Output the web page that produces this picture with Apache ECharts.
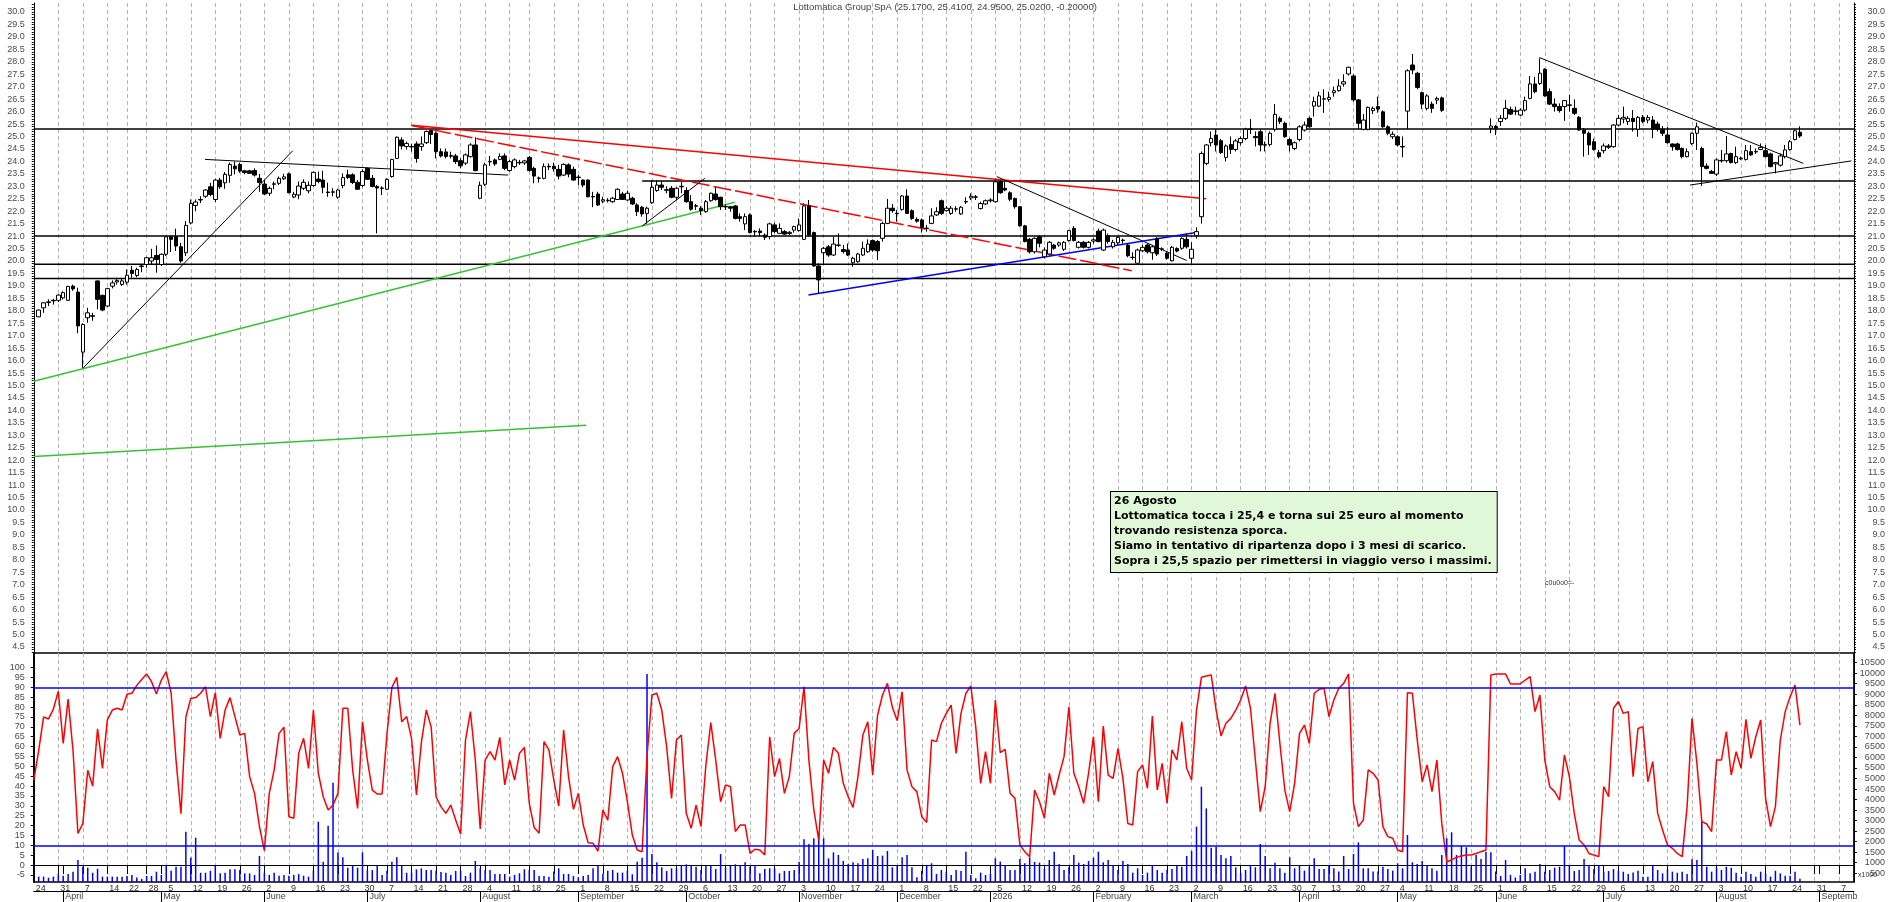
<!DOCTYPE html>
<html><head><meta charset="utf-8">
<script src="https://cdn.jsdelivr.net/npm/echarts@6/dist/echarts.min.js"></script>
<style>html,body{margin:0;padding:0;background:#fff;}#c{width:1890px;height:902px;}</style>
</head><body><div id="c"></div>
<script>
// ---- calendar (Borsa Italiana trading days) ----
const holidays = ['2025-04-18','2025-04-21','2025-05-01','2025-08-15','2025-12-24','2025-12-25','2025-12-26','2025-12-31','2026-01-01','2026-04-03','2026-04-06','2026-05-01'];
const skipWeekTicks = ['2025-12-29'];
const monthNames = ['January','February','March','April','May','June','July','August','September','October','November','December'];

// ---- OHLC (index 0 = 2025-03-24) ----
const openP = ['-',17.76,18.12,18.33,18.42,18.42,18.52,18.42,18.99,18.75,
16.34,17.72,17.80,19.20,18.62,18.19,18.99,19.16,19.06,19.15,
19.63,19.42,19.78,19.86,20.00,20.22,19.86,20.27,20.97,20.97,
20.57,20.33,21.53,22.23,22.45,22.60,22.98,22.47,23.25,23.14,
23.44,23.81,23.88,23.62,23.62,23.63,23.32,23.09,22.72,23.08,
23.12,23.30,23.50,22.57,22.65,22.92,22.82,23.03,23.29,23.25,
22.77,22.76,22.56,23.03,23.46,23.46,23.16,23.03,23.72,23.32,
22.99,22.93,22.88,23.39,24.12,24.86,24.60,24.60,24.70,24.60,
24.75,25.24,25.13,24.39,24.38,24.23,24.22,24.03,23.93,24.19,
24.66,22.52,23.08,23.98,24.06,24.08,24.22,23.63,23.79,23.94,
23.94,24.16,23.72,23.32,23.32,23.80,23.80,23.68,23.45,23.86,
23.68,23.37,23.25,23.25,22.59,22.69,22.40,22.42,22.38,22.47,
22.69,22.45,22.52,22.25,22.16,21.91,22.34,22.83,23.05,22.86,
22.92,22.56,22.98,22.83,22.38,22.22,22.12,21.98,22.42,22.69,
22.56,22.19,22.18,22.21,21.78,21.49,21.85,21.19,21.20,21.04,
20.98,21.45,21.11,21.18,21.10,21.24,21.22,20.87,22.21,21.14,
19.80,20.33,20.57,20.24,20.64,20.46,20.44,19.93,19.97,20.24,
20.37,20.82,20.78,20.91,21.51,22.12,21.92,22.07,22.61,22.02,
21.67,21.65,21.32,21.51,21.85,22.42,22.02,21.91,22.08,21.89,
22.37,22.53,22.56,22.11,22.29,22.42,22.38,23.18,22.92,22.74,
22.51,22.18,21.41,20.87,20.37,20.97,20.17,20.28,20.64,20.64,
20.47,20.82,21.31,20.55,20.75,20.55,20.80,21.20,20.44,21.02,
20.57,20.73,20.82,20.64,20.14,19.91,20.41,20.64,20.33,20.91,
20.47,20.31,20.01,20.50,20.51,20.87,20.11,21.02,21.78,23.92,
24.75,25.06,24.83,24.16,24.68,24.48,24.75,24.92,25.28,25.00,
25.19,24.65,24.68,25.29,25.73,25.53,24.88,24.52,24.88,25.26,
25.73,26.22,26.22,26.50,26.49,26.76,26.84,27.11,27.51,27.43,
26.47,25.29,25.29,26.04,26.20,25.99,25.39,24.99,24.99,24.60,
26.02,27.87,27.54,26.76,26.13,26.30,26.46,26.55,'-','-',
'-','-','-','-','-','-','-',25.33,25.40,25.60,
25.73,26.09,26.00,25.86,26.06,26.53,27.11,27.13,27.70,26.80,
26.30,26.20,26.20,26.25,26.13,25.77,25.26,25.13,24.79,24.35,
24.43,24.62,24.59,25.46,25.70,25.60,25.73,25.29,25.77,25.66,
25.66,25.50,25.29,25.06,24.70,24.70,24.52,24.19,24.72,25.13,
24.52,23.81,23.59,23.49,24.02,24.03,24.32,23.95,24.10,24.08,
24.39,24.38,24.48,24.43,24.30,23.90,23.85,24.19,24.48,24.88,25.17];

const closeP = ['-',18.03,18.32,18.36,18.40,18.63,18.73,18.98,18.88,17.39,
17.45,17.92,17.78,18.46,18.03,18.89,19.12,19.22,19.20,19.43,
19.50,19.66,19.80,20.13,20.13,20.06,20.27,20.97,20.87,20.60,
20.00,21.43,22.31,22.37,22.47,22.85,22.67,23.25,22.98,23.48,
23.88,23.70,23.61,23.55,23.52,23.45,23.15,22.69,22.92,23.10,
23.32,23.38,22.74,22.68,23.01,23.16,23.04,23.56,23.19,22.96,
22.75,22.78,22.85,23.35,23.35,23.15,22.88,23.59,23.28,22.99,
22.93,22.92,23.28,24.08,24.97,24.62,24.72,24.58,24.12,24.70,
25.20,25.08,24.39,24.22,24.20,24.21,23.99,23.82,24.26,24.66,
23.63,23.04,23.86,24.00,23.90,24.20,23.72,23.99,24.06,23.96,
24.02,23.63,23.41,23.33,23.79,23.78,23.70,23.41,23.88,23.49,
23.25,23.35,23.05,22.58,22.57,22.25,22.46,22.44,22.52,22.88,
22.47,22.72,22.29,21.98,21.89,22.12,22.96,23.05,22.96,22.84,
22.56,22.92,23.00,22.38,22.08,22.20,22.02,22.38,22.72,22.47,
22.18,22.17,22.12,21.71,21.71,21.78,21.14,21.17,21.14,20.95,
21.49,21.18,21.31,21.08,21.15,21.38,21.45,22.21,21.04,19.80,
19.24,20.51,20.24,20.68,20.63,20.38,20.24,20.11,20.28,20.51,
20.68,20.44,20.41,21.51,22.12,22.02,21.90,22.61,21.91,21.71,
21.60,21.35,21.30,21.81,21.98,21.91,22.12,22.12,22.10,22.16,
22.39,22.60,22.58,22.31,22.42,22.45,23.18,22.74,22.85,22.48,
22.18,21.41,20.78,20.37,20.91,20.71,20.44,20.75,20.51,20.73,
20.75,21.22,20.82,20.75,20.55,20.75,20.85,20.78,21.24,20.78,
20.75,20.95,20.84,20.21,20.15,20.44,20.55,20.37,20.57,20.28,
20.49,20.11,20.55,20.40,20.91,20.57,20.47,21.18,24.32,24.66,
24.92,24.66,24.35,24.62,24.48,24.82,24.92,25.29,25.30,24.95,
24.66,24.67,25.13,25.89,25.60,24.99,24.66,24.75,25.39,25.46,
25.39,26.40,26.63,26.52,26.57,26.84,27.03,27.20,27.78,26.47,
25.53,25.66,26.17,26.13,26.10,25.39,25.13,25.09,24.66,24.58,
27.64,27.67,26.97,26.30,26.63,26.13,26.53,26.05,'-','-',
'-','-','-','-','-','-','-',25.42,25.33,25.73,
26.13,25.90,26.03,26.06,26.44,27.11,26.80,27.54,26.63,26.30,
26.20,26.04,26.44,26.27,25.93,25.26,25.13,24.66,24.48,24.19,
24.62,24.57,25.46,25.73,25.77,25.73,25.60,25.77,25.60,25.76,
25.29,25.29,25.13,24.75,24.59,24.48,24.19,24.39,25.13,25.39,
23.79,23.72,23.52,24.06,24.04,24.30,23.95,24.19,24.13,24.43,
24.26,24.40,24.56,24.19,23.79,23.95,24.22,24.46,24.79,25.23,25.02];

const lowP = ['-',17.74,17.92,18.19,18.25,18.35,18.45,18.40,18.80,17.10,
15.71,17.52,17.60,18.06,17.98,18.15,18.90,19.05,19.00,19.05,
19.33,19.35,19.55,19.73,19.86,19.53,19.80,20.20,20.36,20.40,
19.93,20.20,21.47,22.00,22.33,22.53,22.60,22.37,22.90,22.90,
23.14,23.48,23.54,23.48,23.50,23.39,22.78,22.65,22.61,22.88,
23.05,23.25,22.72,22.52,22.48,22.85,22.72,22.99,23.12,22.72,
22.58,22.60,22.50,22.92,23.29,23.09,22.85,22.96,23.25,22.96,
21.11,22.65,22.85,23.35,24.10,24.48,24.48,24.39,23.95,24.43,
24.70,24.70,24.12,24.16,24.12,24.12,23.90,23.72,23.86,24.16,
23.60,22.48,23.01,23.82,23.82,24.05,23.65,23.59,23.72,23.86,
23.86,23.59,23.12,23.15,23.28,23.65,23.59,23.28,23.41,23.36,
23.23,23.05,22.96,22.56,22.16,22.21,22.32,22.35,22.34,22.45,
22.45,22.42,22.25,21.81,21.78,21.50,22.29,22.78,22.85,22.72,
22.52,22.45,22.72,22.34,22.02,22.05,21.85,21.94,22.38,22.42,
22.05,22.05,21.98,21.67,21.58,21.24,21.11,20.98,20.98,20.84,
20.87,21.11,21.08,21.04,21.05,21.14,21.18,20.84,20.98,19.77,
18.70,19.84,20.17,20.20,20.57,20.30,20.20,19.77,19.93,20.20,
20.33,20.37,20.04,20.78,21.48,21.94,21.58,22.02,21.89,21.65,
21.54,21.14,21.18,21.48,21.81,21.85,21.98,21.85,21.98,21.85,
22.29,22.45,22.45,22.07,22.25,22.35,22.35,22.70,22.80,22.40,
22.10,21.38,20.75,20.30,20.30,20.55,20.10,20.22,20.45,20.57,
20.40,20.78,20.78,20.50,20.50,20.50,20.70,20.75,20.40,20.70,
20.50,20.65,20.70,20.15,20.05,19.88,20.35,20.30,20.05,20.20,
20.40,20.05,19.98,20.35,20.45,20.50,19.90,20.90,21.50,23.85,
24.60,24.40,24.30,24.00,24.30,24.40,24.65,24.85,25.10,24.60,
24.40,24.40,24.60,25.20,25.50,24.95,24.40,24.45,24.80,25.20,
25.35,25.80,26.20,25.95,26.40,26.60,26.80,27.00,27.45,26.40,
25.30,25.25,25.25,25.90,25.95,25.35,25.05,24.90,24.60,24.16,
25.30,27.50,26.90,26.10,26.05,25.95,26.30,25.98,'-','-',
'-','-','-','-','-','-','-',25.13,25.06,25.42,
25.66,25.86,25.86,25.82,26.00,26.49,26.73,27.07,26.60,26.26,
26.00,25.96,25.63,26.00,25.86,25.23,24.19,24.26,24.43,24.12,
24.32,24.50,24.55,25.40,25.53,25.46,25.20,24.99,25.53,25.53,
24.93,25.20,25.02,24.72,24.43,24.43,24.12,24.16,24.66,24.46,
23.01,23.68,23.50,23.41,23.95,23.95,23.92,23.90,24.06,24.03,
24.22,24.30,24.45,24.16,23.76,23.52,23.79,24.12,24.43,24.84,24.95];

const highP = ['-',18.05,18.35,18.46,18.48,18.66,18.78,19.00,19.05,18.93,
17.50,18.12,17.92,19.22,18.65,18.92,19.22,19.33,19.30,19.66,
19.80,19.73,19.86,20.17,20.49,20.62,20.30,21.00,21.03,21.30,
20.73,21.60,22.47,22.47,22.60,22.88,23.14,23.30,23.34,23.57,
23.95,24.00,23.95,23.66,23.66,23.72,23.50,23.25,22.99,23.19,
23.39,23.50,23.55,22.78,23.19,23.28,23.19,23.59,23.59,23.63,
23.15,22.92,22.90,23.52,23.66,23.52,23.25,23.68,23.75,23.45,
23.05,23.00,23.32,24.10,25.00,24.97,24.80,24.70,24.80,25.00,
25.24,25.26,25.20,24.52,24.52,24.39,24.30,24.12,24.32,24.73,
24.97,23.19,23.95,24.22,24.12,24.32,24.32,24.06,24.12,24.06,
24.06,24.22,23.79,23.39,23.92,23.92,23.95,23.86,23.92,23.92,
23.79,23.45,23.28,23.28,22.78,22.78,22.58,22.52,22.58,22.92,
22.78,22.83,22.58,22.32,22.21,22.18,23.25,23.25,23.22,23.00,
23.01,22.96,23.18,22.96,22.65,22.29,22.21,22.45,22.75,22.96,
22.58,22.29,22.21,22.25,21.91,21.91,21.91,21.24,21.31,21.11,
21.54,21.54,21.51,21.24,21.20,21.42,21.71,22.32,22.45,21.18,
19.90,20.57,20.64,20.98,21.11,20.64,20.70,20.17,20.33,20.78,
20.87,20.87,20.84,21.58,22.49,22.29,22.05,22.65,22.88,22.07,
21.75,21.71,21.45,22.12,22.16,22.47,22.21,22.21,22.20,22.21,
22.56,22.72,22.65,22.38,22.47,22.52,23.30,23.25,23.20,22.80,
22.55,22.20,21.45,20.92,20.95,21.02,20.55,20.80,20.68,20.78,
20.80,21.25,21.40,20.80,20.80,20.80,20.92,21.30,21.30,21.10,
20.85,21.00,20.90,20.70,20.35,20.50,20.65,20.70,20.62,20.95,
20.55,20.40,20.60,20.55,20.95,21.10,20.75,21.35,24.40,24.70,
25.20,25.30,24.90,24.68,25.00,24.90,25.00,25.35,25.70,25.20,
25.29,24.80,25.20,26.30,25.80,25.60,24.95,24.80,25.45,25.60,
25.80,26.60,26.80,26.90,26.80,27.00,27.30,27.50,27.80,27.50,
26.50,25.90,26.20,26.20,26.60,26.05,25.45,25.20,25.05,25.00,
27.70,28.31,27.60,26.80,26.70,26.40,26.60,26.60,'-','-',
'-','-','-','-','-','-','-',25.73,25.46,25.86,
26.47,26.20,26.20,26.13,26.60,27.43,27.40,28.14,27.74,26.93,
26.53,26.33,26.47,26.67,26.49,25.82,25.33,25.20,24.92,24.46,
24.72,24.70,25.50,25.86,26.20,25.82,26.06,25.82,25.86,25.86,
25.82,25.60,25.42,25.39,24.72,24.75,24.56,24.52,25.16,25.56,
24.59,23.92,23.66,24.12,24.46,25.02,24.35,24.59,24.19,24.66,
24.66,24.52,24.72,24.66,24.35,23.98,24.32,24.66,24.86,25.29,25.41];

// ---- lower panel: oscillator (0-100) and volume (x1000) ----
const oscValues = [43,58,75,74,79,88,61.6,84,58,16,
21,48,40,69,49,73.5,78.5,79.4,78.5,86.5,
87,91,94,96.8,92.9,86.6,93.7,97.9,87,53,
26,75,84.4,84.8,87,90.3,75.2,87.3,64.2,78.5,
84.8,75.2,65.9,66.7,44.8,36.3,19.5,7.3,36.3,48.2,
66.7,69.8,24.5,23.7,56.6,64.2,49,78.5,46.5,34.6,
27.9,30.4,36.3,79.4,79.4,48.2,28.7,72.6,53.2,38,
36,36,66.7,90,95.1,72.6,75.2,64.2,35.5,62,
78.5,70,34.6,29.6,26.2,30.4,22.8,15.7,63.3,77.7,
53.2,18.3,53.2,57.4,53.2,64.7,40.6,53.2,43,56.6,
59.6,31.3,19,16.1,62.5,58.3,43,29.9,68.4,44.8,
28.2,36.3,20.3,11.3,11,7.1,27.9,22.8,49.8,54.9,
46.5,32.1,15.2,7.6,6.8,55,86.1,87,78.5,60,
33.8,63.3,65.9,26.2,18.6,30.4,19.5,50.7,72.1,53.2,
32.1,40.6,39.7,17,20.3,20.3,5.9,8,7.6,5.1,
65,44.8,54,36.3,44.8,66.7,69.2,90.3,53,27.9,
12.7,53.2,46.5,59.6,56.6,41.4,34.6,29.2,44.8,65.9,
72.6,45.6,76,86.1,92,80,73.1,87.8,48.2,39.7,
37.2,24.5,21.6,63.3,62.5,71.8,76.8,81,56.6,76.8,
87,90.7,70.1,41.4,57.4,41.4,83.6,56.9,58.6,36.3,
33.8,10.2,6.8,4.3,38,32.1,23.7,46.5,35.5,45.6,
54.9,80.2,46.5,39.7,31.3,46.5,65,32.1,70.4,45.6,
43.9,59.1,43.9,21.1,20.3,47.3,50.7,38.9,75.5,38,
51.5,31.3,58.3,53.2,72.6,49,43.1,78.5,95.1,95.7,
96.3,78.5,65.4,71.8,74.3,78.5,83.6,90.7,79.4,53.2,
27.1,39.7,71.8,87,61.6,38,27.1,41.4,66.7,70.9,
61.6,87,89,89.5,75.2,83.6,89.5,92,96.8,31.3,
19.5,22.8,48.2,46.5,43.1,19.5,14.4,13.6,7.6,6.8,
87.3,87,63.3,42.2,50.7,37.2,53.2,21.1,1.7,2.6,
3.9,4.6,5.1,5.1,5.9,6.8,7.6,96.3,96.8,96.8,
96.8,91.7,91.7,91.7,93.7,95.4,77.7,86.1,53.2,39.7,
37.2,32.9,55.7,44.8,26.2,12.7,10.2,5.9,5.1,4.3,
39.7,34.6,79.4,82.8,76.8,77.7,44.8,69.2,70.1,42.2,
52.4,26.2,17.8,10.2,8.5,5.9,4.3,29.6,74.3,51.5,
22,20.8,16.9,53.2,53.2,67.6,45.6,57.4,49,73.8,
54,65,73.5,33.8,19.5,29.6,63.3,77.7,85.3,91.2,70.9];

const volValues = ['-',340,340,290,340,460,385,460,575,1130,
810,765,525,715,340,340,340,340,340,370,
420,300,230,370,370,575,420,860,620,810,
810,2470,1240,2190,525,525,620,860,495,525,
685,685,650,495,495,420,1320,525,420,525,
385,420,385,420,460,385,340,620,2950,1050,
2760,4800,1490,1255,765,860,765,1490,650,650,
840,420,620,1050,1255,860,525,525,685,736,
657,657,625,562,530,420,610,610,372,530,
1083,736,657,657,467,467,467,340,420,499,
689,657,657,372,372,340,578,736,467,467,
372,309,372,420,736,846,467,625,657,530,
530,625,450,1052,1242,9960,1416,1020,783,610,
736,736,894,925,862,815,657,846,846,704,
1416,736,846,925,894,1020,815,894,499,704,
736,736,499,610,610,657,1052,2112,1890,2160,
2429,2160,1210,1495,1369,1083,941,1020,973,1178,
1210,1606,1321,1337,1559,783,846,1258,1369,783,
309,625,846,973,467,657,578,420,657,610,
1527,420,261,530,420,467,1210,1052,894,657,
657,1178,973,1258,1036,1004,704,1131,1527,941,
657,783,1369,1004,941,1083,1242,1527,1020,1131,
894,657,1083,941,530,736,420,530,894,657,
530,657,704,846,815,1321,1559,2714,4610,3580,
1717,1764,1369,1210,1321,783,530,657,894,783,
1890,1321,736,1004,736,530,1258,736,894,625,
815,1210,704,704,894,736,578,1321,704,1416,
1970,736,736,578,578,815,704,625,973,736,
2318,1020,941,1083,894,736,625,1369,2160,2445,
1369,1812,1733,783,1369,1178,1527,1495,578,372,
1128,420,300,420,733,495,575,940,575,654,
765,812,1810,890,605,654,1176,890,685,890,
575,605,700,620,575,460,540,620,340,340,
860,654,495,685,575,525,575,460,1160,1128,
3000,812,575,765,654,812,765,525,340,575,
460,340,575,495,340,620,495,385,385,575,240];

// ---- tick labels ----
const priceTicks = [4.5,5,5.5,6,6.5,7,7.5,8,8.5,9,9.5,10,10.5,11,11.5,12,12.5,13,13.5,14,14.5,15,15.5,16,16.5,17,17.5,18,18.5,19,19.5,20,20.5,21,21.5,22,22.5,23,23.5,24,24.5,25,25.5,26,26.5,27,27.5,28,28.5,29,29.5,30];
const oscTicks = [-5,0,5,10,15,20,25,30,35,40,45,50,55,60,65,70,75,80,85,90,95,100];
const volTicks = [500,1000,1500,2000,2500,3000,3500,4000,4500,5000,5500,6000,6500,7000,7500,8000,8500,9000,9500,10000,10500];

// ---- drawn studies (x in trading-day index, y in price) ----
const hLevels = [25.3, 21.0, 19.87, 19.3];
const trendLines = [
  {pts:[[124,23.21],[371,23.21]], color:'#000', w:1.5, type:'solid'},
  {pts:[[10,15.69],[52.8,24.43]], color:'#000', w:1, type:'solid'},
  {pts:[[34.9,24.08],[96.7,23.45]], color:'#000', w:1, type:'solid'},
  {pts:[[77,25.45],[239,22.5]], color:'#ff0000', w:1.5, type:'solid'},
  {pts:[[77,25.44],[223.8,19.61]], color:'#ff0000', w:1.5, type:[18,4]},
  {pts:[[0,15.17],[142.9,22.36]], color:'#33c433', w:1.5, type:'solid'},
  {pts:[[0,12.15],[112.6,13.4]], color:'#33c433', w:1.5, type:'solid'},
  {pts:[[124.05,21.41],[136.8,23.32]], color:'#000', w:1, type:'solid'},
  {pts:[[196.3,23.39],[235,20.02]], color:'#000', w:1, type:'solid'},
  {pts:[[157.9,18.63],[236.9,21.14]], color:'#0000ff', w:1.5, type:'solid'},
  {pts:[[306.9,28.17],[360.7,23.92]], color:'#000', w:1, type:'solid'},
  {pts:[[337.6,23.05],[370.5,24.02]], color:'#000', w:1, type:'solid'}
];

const noteLines = ['26 Agosto','Lottomatica tocca i 25,4 e torna sui 25 euro al momento','trovando resistenza sporca.','Siamo in tentativo di ripartenza dopo i 3 mesi di scarico.','Sopra i 25,5 spazio per rimettersi in viaggio verso i massimi.'];
const titleText = 'Lottomatica Group SpA (25.1700, 25.4100, 24.9500, 25.0200, -0.20000)';

// ---- build categories ----
const categories = [];
(function(){
  let t = Date.UTC(2025,2,24); const end = Date.UTC(2026,8,10);
  while (t <= end) {
    const d = new Date(t); const wd = d.getUTCDay(); const iso = d.toISOString().slice(0,10);
    if (wd !== 0 && wd !== 6 && holidays.indexOf(iso) < 0) categories.push(iso);
    t += 86400000;
  }
})();
function mondayKey(iso){ const d = new Date(iso+'T00:00:00Z'); const wd=(d.getUTCDay()+6)%7; return d.getTime()-wd*86400000; }
const isWeek = categories.map((c,i)=> i===0 || (mondayKey(c)!==mondayKey(categories[i-1]) && skipWeekTicks.indexOf(c)<0));
const isMonth = categories.map((c,i)=> i>0 && c.slice(5,7)!==categories[i-1].slice(5,7));
const NCAT = categories.length;
const lastCatIdx = NCAT - 1;

const candles = openP.map((o,i)=> o==='-' ? ['-','-','-','-'] : [o, closeP[i], lowP[i], highP[i]]);
const minorPriceTicks = []; for (let k=43;k<=303;k++) minorPriceTicks.push(k/10);

const FONT = "'Liberation Sans', Arial, sans-serif";
const LBL = {fontSize:9, color:'#4a4a4a', fontFamily:FONT};
const GRID_L = 33.77, GRID_R = 1890 - (33.77 + lastCatIdx*4.906);

const dashed = {show:true, lineStyle:{color:'#b4b4b4', type:[4,3], width:1}};

const series = [];
series.push({type:'candlestick', xAxisIndex:0, yAxisIndex:0, data:candles, barWidth:4, z:5,
  itemStyle:{color:'#ffffff', color0:'#000000', borderColor:'#000000', borderColor0:'#000000', borderWidth:1}});
hLevels.forEach(v=> series.push({type:'line', xAxisIndex:3, yAxisIndex:0, data:[[0,v],[lastCatIdx,v]], symbol:'none', silent:true, z:3,
  lineStyle:{color:'#000', width:1.5}}));
trendLines.forEach(t=> series.push({type:'line', xAxisIndex:3, yAxisIndex:0, data:t.pts, symbol:'none', silent:true, z:4,
  lineStyle:{color:t.color, width:t.w, type:t.type}}));
series.push({type:'bar', xAxisIndex:1, yAxisIndex:3, data:volValues, barWidth:1.5, z:2, itemStyle:{color:'#0000ff'}, silent:true});
series.push({type:'line', xAxisIndex:1, yAxisIndex:2, data:oscValues, symbol:'none', z:4, silent:true,
  lineStyle:{color:'#ff0000', width:1.5},
  markLine:{silent:true, symbol:'none', label:{show:false}, lineStyle:{color:'#0000ff', width:1.5, type:'solid'},
    data:[{yAxis:90},{yAxis:10}]}});

const option = {
  animation:false,
  backgroundColor:'#ffffff',
  grid:[
    {left:GRID_L, right:GRID_R, top:3, height:650},
    {left:GRID_L, right:GRID_R, top:653, height:229, show:true, borderColor:'#000', borderWidth:1.5}
  ],
  xAxis:[
    {type:'category', gridIndex:0, data:categories, boundaryGap:false, axisLine:{show:false}, axisTick:{show:false}, axisLabel:{show:false},
      splitLine:Object.assign({interval:(i)=>isWeek[i]}, dashed)},
    {type:'category', gridIndex:1, data:categories, boundaryGap:false, position:'bottom',
      axisLine:{show:true, lineStyle:{color:'#000', width:1}},
      axisTick:{show:true, interval:(i)=>isWeek[i]||isMonth[i], length:9, lineStyle:{color:'#000'}},
      axisLabel:{interval:(i)=>isWeek[i], formatter:(v)=>String(parseInt(v.slice(8,10),10)), align:'left', margin:2, padding:[0,0,0,2], color:'#333', fontSize:9, fontFamily:FONT},
      splitLine:Object.assign({interval:(i)=>isWeek[i]}, dashed)},
    {type:'category', gridIndex:1, data:categories, boundaryGap:false, position:'bottom', offset:9,
      axisLine:{show:true, lineStyle:{color:'#000', width:1}},
      axisTick:{show:true, interval:(i)=>isMonth[i], length:11, lineStyle:{color:'#000'}},
      axisLabel:{interval:(i)=>isMonth[i], formatter:(v)=>{ const m=parseInt(v.slice(5,7),10)-1; if (v.slice(0,7)==='2026-09') return 'Septemb'; return m===0 ? v.slice(0,4) : monthNames[m]; },
        align:'left', margin:1, padding:[0,0,0,2], fontSize:9, color:'#444', fontFamily:FONT},
      splitLine:{show:false}},
    {type:'value', gridIndex:0, min:0, max:lastCatIdx, show:false}
  ],
  yAxis:[
    {type:'value', gridIndex:0, position:'left', min:4.257, max:30.361, axisLine:{show:true, lineStyle:{color:'#000'}},
      axisTick:{show:true, customValues:minorPriceTicks, length:2, lineStyle:{color:'#000'}},
      axisLabel:Object.assign({customValues:priceTicks, formatter:(v)=>v.toFixed(1), margin:9}, LBL), splitLine:{show:false}},
    {type:'value', gridIndex:0, position:'right', min:4.257, max:30.361, axisLine:{show:true, lineStyle:{color:'#000'}},
      axisTick:{show:true, customValues:minorPriceTicks, length:2, lineStyle:{color:'#000'}},
      axisLabel:Object.assign({customValues:priceTicks, formatter:(v)=>v.toFixed(1), margin:31, align:'right'}, LBL), splitLine:{show:false}},
    {type:'value', gridIndex:1, position:'left', min:-8.56, max:107.39, axisLine:{show:true, lineStyle:{color:'#000'}},
      axisTick:{show:true, customValues:oscTicks, length:3, lineStyle:{color:'#000'}},
      axisLabel:Object.assign({customValues:oscTicks, formatter:(v)=>String(Math.round(v)), margin:9}, LBL), splitLine:{show:false}},
    {type:'value', gridIndex:1, position:'right', min:85, max:10960, axisLine:{show:true, lineStyle:{color:'#000'}},
      axisTick:{show:true, customValues:volTicks, length:3, lineStyle:{color:'#000'}},
      axisLabel:Object.assign({customValues:volTicks, formatter:(v)=>String(Math.round(v)), margin:31, align:'right'}, LBL), splitLine:{show:false}}
  ],
  graphic:[
    {type:'text', x:945, y:7, style:{text:titleText, font:"9.5px "+FONT, fill:'#444', align:'center', verticalAlign:'middle'}, z:10},
    {type:'text', left:1110, top:491, z:20, style:{text:noteLines.join('\n'), font:"bold 11px 'DejaVu Sans', Verdana, sans-serif", fill:'#000',
      backgroundColor:'#e0f8d8', borderColor:'#000', borderWidth:1, padding:[2,5,3,3], lineHeight:15}},
    {type:'text', x:1545, y:580, z:20, style:{text:'c0u0o0=-', font:"7px "+FONT, fill:'#333'}},
    {type:'text', x:1858, y:872, z:20, style:{text:'x1000', font:"7px "+FONT, fill:'#333'}}
  ],
  series:series
};
const chart = echarts.init(document.getElementById('c'), null, {renderer:'canvas'});
chart.setOption(option);
</script></body></html>
